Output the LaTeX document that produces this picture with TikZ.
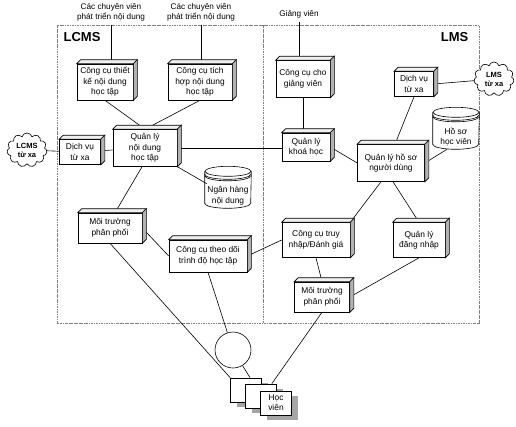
\documentclass[tikz,border=0pt]{standalone}
\usepackage{fontspec}
\setmainfont{Liberation Sans}
\usetikzlibrary{shapes.symbols,shadows}

\begin{document}
\begin{tikzpicture}[
  x=1pt, y=1pt, line width=0.6pt,
  box/.style={draw, fill=white, align=center, inner sep=1pt, font=\fontsize{8.4}{10.5}\selectfont},
  db/.style={align=center, inner sep=0pt, minimum width=46pt, minimum height=24pt, font=\fontsize{8.4}{10.5}\selectfont},
  remote/.style={cloud, cloud puffs=11, draw, fill=white, aspect=1.2, inner sep=0pt, minimum width=40pt, minimum height=34pt, align=center, font=\bfseries\fontsize{7.5}{9}\selectfont},
  actor/.style={align=center, font=\fontsize{8.2}{10}\selectfont},
  title/.style={font=\bfseries\fontsize{13}{15}\selectfont},
  page/.style={draw, fill=white, minimum width=31pt, minimum height=24pt, align=center, font=\fontsize{8.4}{10}\selectfont, drop shadow={shadow xshift=6pt, shadow yshift=-5pt, fill=gray!70, opacity=1}},
  region/.style={draw=gray, line width=0.5pt, dash pattern=on 2.5pt off 1pt on 0.6pt off 1pt}
]
\useasboundingbox (0,0) rectangle (516,-426);
\draw[region] (57,-25) rectangle (479,-323);
\draw[region] (263,-25) -- (263,-323);
\node[title, anchor=west] (lcms) at (60,-37) {LCMS};
\node[title, anchor=east] (lms) at (472,-37) {LMS};

\node[actor] (cv1) at (111,-12) {Các chuyên viên\\phát triển nội dung};
\node[actor] (cv2) at (201,-12) {Các chuyên viên\\phát triển nội dung};
\node[actor] (gv) at (299,-14) {Giảng viên};

\node[box, minimum width=56pt, minimum height=36pt] (tk) at (105,-82) {Công cụ thiết\\kế nội dung\\học tập};
\node[box, minimum width=64pt, minimum height=36pt] (th) at (200,-82) {Công cụ tích\\hợp nội dung\\học tập};
\node[box, minimum width=64pt, minimum height=37pt] (qlnd) at (145,-148) {Quản lý\\nội dung\\học tập};
\node[box, minimum width=41pt, minimum height=25pt] (dvl) at (80,-152) {Dịch vụ\\từ xa};
\node[remote] (lcmsxa) at (27,-150) {LCMS\\từ xa};
\node[db] (nh) at (228,-196) {Ngân hàng\\nội dung};
\node[box, minimum width=64pt, minimum height=30pt] (mtl) at (110,-228) {Môi trường\\phân phối};
\node[box, minimum width=78pt, minimum height=32pt] (td) at (208,-256) {Công cụ theo dõi\\trình độ học tập};

\node[box, minimum width=54pt, minimum height=37pt] (cgv) at (303,-79) {Công cụ cho\\giảng viên};
\node[box, minimum width=48pt, minimum height=28pt] (qlkh) at (306,-147) {Quản lý\\khoá học};
\node[box, minimum width=39pt, minimum height=25pt] (dvr) at (414,-84) {Dịch vụ\\từ xa};
\node[remote] (lmsxa) at (494,-79) {LMS\\từ xa};
\node[db] (hs) at (456,-137) {Hồ sơ\\học viên};
\node[box, minimum width=67pt, minimum height=37pt] (qlhs) at (391,-163) {Quản lý hồ sơ\\người dùng};
\node[box, minimum width=68pt, minimum height=35pt] (tn) at (316,-240) {Công cụ truy\\nhập/Đánh giá};
\node[box, minimum width=52pt, minimum height=35pt] (dn) at (419,-240) {Quản lý\\đăng nhập};
\node[box, minimum width=55pt, minimum height=30pt] (mtr) at (322,-297) {Môi trường\\phân phối};

\node[draw, circle, minimum size=36pt] (tb) at (233,-350) {};
\node[page] (p1) at (246,-390) {};
\node[page] (p2) at (261,-396) {};
\node[page] (p3) at (276,-403) {Học\\viên};

\draw (cv1.south) -- (cv1.south |- tk.north);
\draw (cv2.south) -- (cv2.south |- th.north);
\draw (tk.south) -- (qlnd.north);
\draw (th.south) -- (qlnd.north);
\draw (lcmsxa) -- (dvl);
\draw (dvl) -- (qlnd);
\draw (qlnd.east) -- (qlnd.east -| qlkh.west);
\draw (qlnd) -- (nh);
\draw ([xshift=-3pt]qlnd.south) -- ([xshift=5pt]mtl.north);
\draw (mtl.east) -- (td.west);
\draw (td.east) -- (tn.west);
\draw (gv.south) -- (gv.south |- cgv.north);
\draw (cgv.south) -- (cgv.south |- qlkh.north);
\draw (qlkh.east) -- (qlhs.west);
\draw (dvr.east) -- (lmsxa);
\draw (dvr.south) -- ([xshift=4pt]qlhs.north);
\draw (qlhs.east) -- ([xshift=-9pt]hs.south);
\draw ([xshift=-10pt]qlhs.south) -- (tn.north east);
\draw ([xshift=2pt]qlhs.south) -- (dn.north);
\draw (tn.south) -- (mtr.north);
\draw (dn.south) -- (mtr.east);
\draw (td.south) -- (tb);
\draw (tb) -- ([xshift=4pt]p1.north);
\draw (mtl.south) -- (p1.north west);
\draw (mtr.south) -- ([xshift=-5pt]p2.north east);

\foreach \n in {tk,th,qlnd,dvl,mtl,td,cgv,qlkh,dvr,qlhs,tn,dn,mtr}{
  \filldraw[fill=gray!12] (\n.north west) -- ++(4,4) -- ([shift={(4pt,4pt)}]\n.north east) -- (\n.north east) -- cycle;
  \filldraw[fill=gray!60] (\n.north east) -- ++(4,4) -- ([shift={(4pt,4pt)}]\n.south east) -- (\n.south east) -- cycle;
}
\foreach \n in {nh,hs}{
  \draw ([yshift=37pt]\n.south west) -- ([yshift=5pt]\n.south west) arc[start angle=180, end angle=360, x radius=23, y radius=5] -- ([yshift=37pt]\n.south east);
  \draw ([yshift=37pt]\n.south) ellipse[x radius=23, y radius=5];
  \draw ([yshift=34pt]\n.south west) arc[start angle=180, end angle=360, x radius=23, y radius=5];
  \draw ([yshift=32.5pt]\n.south west) arc[start angle=180, end angle=360, x radius=23, y radius=5];
}
\end{tikzpicture}
\end{document}
